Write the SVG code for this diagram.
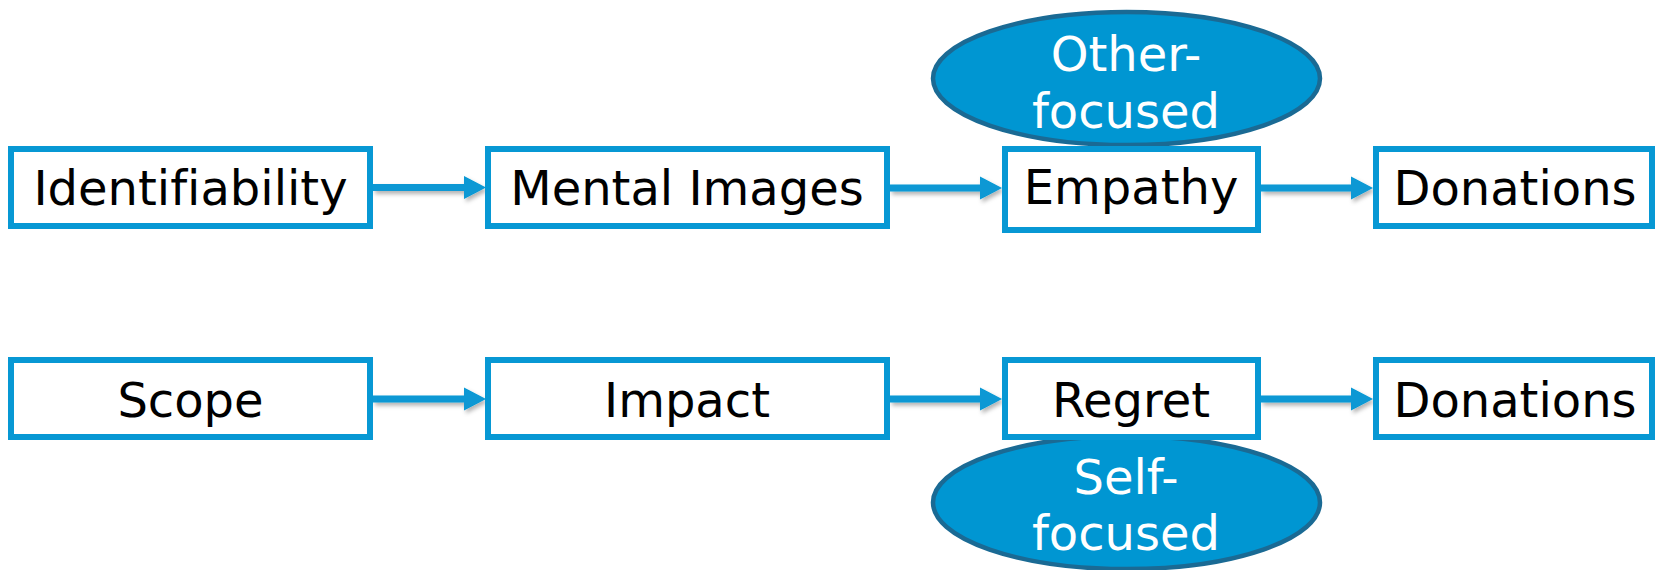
<svg xmlns="http://www.w3.org/2000/svg" width="1657" height="570" viewBox="0 0 1657 570">
  <style>
    .box { fill: #ffffff; stroke: #0798D4; stroke-width: 6; }
    .oval { fill: #0096D2; stroke: #1A6A94; stroke-width: 4.5; }
    .label { font-family: "DejaVu Sans", Verdana, sans-serif; font-size: 48px; fill: #000000; text-anchor: middle; font-variant-ligatures: none; }
    .tag { font-family: "DejaVu Sans", Verdana, sans-serif; font-size: 48px; fill: #ffffff; text-anchor: middle; font-variant-ligatures: none; }
    .link { stroke: #0798D4; stroke-width: 7; fill: none; }
    .head { fill: #0798D4; }
  </style>
  <defs>
    <filter id="shadow" x="-10%" y="-60%" width="130%" height="260%">
      <feDropShadow dx="2" dy="3" stdDeviation="2" flood-color="#000000" flood-opacity="0.3"/>
    </filter>
  </defs>

  <rect width="1657" height="570" fill="#ffffff"/>

  <!-- focus annotations -->
  <g id="other-focused">
    <ellipse class="oval" cx="1126.5" cy="78.5" rx="193.5" ry="66.5"/>
    <text class="tag" x="1126" y="71">Other-</text>
    <text class="tag" x="1126" y="128">focused</text>
  </g>
  <g id="self-focused">
    <ellipse class="oval" cx="1126.5" cy="502.5" rx="193.5" ry="66.5"/>
    <text class="tag" x="1126" y="494">Self-</text>
    <text class="tag" x="1126" y="550">focused</text>
  </g>

  <!-- connectors -->
  <g id="connectors" filter="url(#shadow)">
    <line class="link" x1="373" y1="187.5" x2="466" y2="187.5"/>
    <polygon class="head" points="464,176 486,187.5 464,199"/>
    <line class="link" x1="890" y1="188" x2="982" y2="188"/>
    <polygon class="head" points="980,176.5 1002,188 980,199.5"/>
    <line class="link" x1="1261" y1="188" x2="1353" y2="188"/>
    <polygon class="head" points="1351,176.5 1373,188 1351,199.5"/>

    <line class="link" x1="373" y1="399" x2="466" y2="399"/>
    <polygon class="head" points="464,387.5 486,399 464,410.5"/>
    <line class="link" x1="890" y1="399" x2="982" y2="399"/>
    <polygon class="head" points="980,387.5 1002,399 980,410.5"/>
    <line class="link" x1="1261" y1="399" x2="1353" y2="399"/>
    <polygon class="head" points="1351,387.5 1373,399 1351,410.5"/>
  </g>

  <!-- top row -->
  <g id="identifiability">
    <rect class="box" x="11" y="149" width="359" height="77"/>
    <text class="label" x="190.5" y="205">Identifiability</text>
  </g>
  <g id="mental-images">
    <rect class="box" x="488" y="149" width="399" height="77"/>
    <text class="label" x="687" y="205">Mental Images</text>
  </g>
  <g id="empathy">
    <rect class="box" x="1005" y="149" width="253" height="81"/>
    <text class="label" x="1131" y="204">Empathy</text>
  </g>
  <g id="donations-top">
    <rect class="box" x="1376" y="149" width="276" height="77"/>
    <text class="label" x="1515" y="205">Donations</text>
  </g>

  <!-- bottom row -->
  <g id="scope">
    <rect class="box" x="11" y="360" width="359" height="77"/>
    <text class="label" x="190.5" y="417">Scope</text>
  </g>
  <g id="impact">
    <rect class="box" x="488" y="360" width="399" height="77"/>
    <text class="label" x="687" y="417">Impact</text>
  </g>
  <g id="regret">
    <rect class="box" x="1005" y="360" width="253" height="77"/>
    <text class="label" x="1131" y="417">Regret</text>
  </g>
  <g id="donations-bottom">
    <rect class="box" x="1376" y="360" width="276" height="77"/>
    <text class="label" x="1515" y="417">Donations</text>
  </g>
</svg>
